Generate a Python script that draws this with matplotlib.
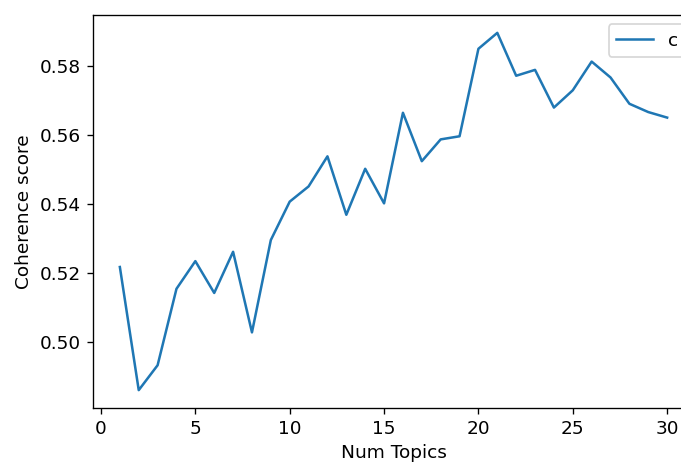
import matplotlib
matplotlib.use("Agg")
import matplotlib.pyplot as plt

# coherence score per number of topics
num_topics = list(range(1, 31))
coherence_values = [0.5218, 0.4862, 0.4934, 0.5155, 0.5235, 0.5143, 0.5262, 0.5029, 0.5296, 0.5407,
                    0.5451, 0.5538, 0.5369, 0.5502, 0.5402, 0.5664, 0.5524, 0.5587, 0.5596, 0.5849,
                    0.5895, 0.5771, 0.5788, 0.5679, 0.5729, 0.5812, 0.5766, 0.5690, 0.5666, 0.5650]
legend_label = "c"

plt.rcParams["font.size"] = 11

dpi = 121
fig = plt.figure(figsize=(681 / dpi, 462 / dpi), dpi=dpi)
# the reference is a crop: axes run past the right edge of the picture
ax = fig.add_axes([92.5 / 681, 54 / 462, 602 / 681, 393 / 462])
ax.plot(num_topics, coherence_values, label=legend_label)
ax.set_xlabel("Num Topics")
ax.set_ylabel("Coherence score")
ax.set_yticks([0.50, 0.52, 0.54, 0.56, 0.58])
ax.legend(loc="upper right")

fig.savefig("out.png", dpi=dpi)
